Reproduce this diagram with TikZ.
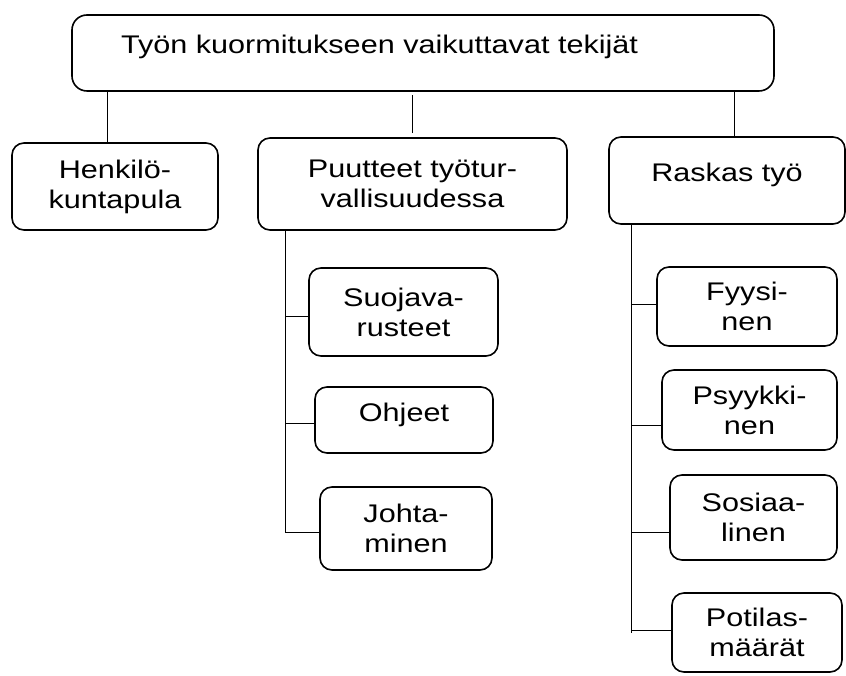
\documentclass[tikz,border=0pt]{standalone}
\usepackage{fontspec}
\setmainfont{Liberation Sans}[FakeStretch=1.2]
\begin{document}
\begin{tikzpicture}[x=1pt, y=1pt, line width=0.8pt,
    box/.style={draw, line width=1.6pt, rounded corners=12pt, align=center, inner sep=0pt, font=\fontsize{25.5}{30}\selectfont}]
  \useasboundingbox (0,0) rectangle (846,675);

  \node[box, rounded corners=15pt, minimum width=702pt, minimum height=76pt, text width=604pt, align=left, text height=18pt, text depth=16pt] (top) at (423,622) {Työn kuormitukseen vaikuttavat tekijät};

  \node[box, minimum width=206pt, minimum height=87pt] (henk) at (115,488.5) {Henkilö-\\kuntapula};
  \node[box, minimum width=309pt, minimum height=92pt] (puut) at (412.5,491) {Puutteet työtur-\\vallisuudessa};
  \node[box, minimum width=236pt, minimum height=87pt, text height=18pt, text depth=15pt] (rask) at (727,494.5) {Raskas työ};

  \node[box, minimum width=189pt, minimum height=88pt] (suoj) at (403.5,363) {Suojava-\\rusteet};
  \node[box, minimum width=178pt, minimum height=66pt, text height=18pt, text depth=14pt] (ohje) at (404,255) {Ohjeet};
  \node[box, minimum width=172pt, minimum height=83pt] (joht) at (406,146.5) {Johta-\\minen};

  \node[box, minimum width=180pt, minimum height=79pt] (fyys) at (747,368.5) {Fyysi-\\nen};
  \node[box, minimum width=175pt, minimum height=80pt] (psyy) at (749.5,265) {Psyykki-\\nen};
  \node[box, minimum width=167pt, minimum height=85pt] (sosi) at (753.5,157.5) {Sosiaa-\\linen};
  \node[box, minimum width=170pt, minimum height=79pt] (poti) at (757,42.5) {Potilas-\\määrät};

  % top level
  \coordinate (h1) at ([xshift=-8pt]henk.north);
  \coordinate (r1) at ([xshift=7pt]rask.north);
  \draw (h1) -- (h1 |- top.south);
  \draw ([yshift=4pt]puut.north) -- ++(0,38);
  \draw (r1) -- (r1 |- top.south);

  % puutteet
  \coordinate (pt) at ([xshift=28pt]puut.south west);
  \coordinate (s1) at ([yshift=-4pt]suoj.west);
  \coordinate (o1) at ([yshift=-3pt]ohje.west);
  \draw (pt) |- ([yshift=-3.5pt]joht.west);
  \draw (s1) -- (s1 -| pt);
  \draw (o1) -- (o1 -| pt);

  % raskas
  \coordinate (rt) at ([xshift=23pt]rask.south west);
  \coordinate (f1) at ([yshift=2.5pt]fyys.west);
  \coordinate (y1) at ([yshift=-15pt]psyy.west);
  \coordinate (k1) at ([yshift=-14.5pt]sosi.west);
  \coordinate (m1) at ([yshift=2.5pt]poti.west);
  \draw (rt) -- (rt |- poti.west);
  \draw (f1) -- (f1 -| rt);
  \draw (y1) -- (y1 -| rt);
  \draw (k1) -- (k1 -| rt);
  \draw (m1) -- (m1 -| rt);
\end{tikzpicture}
\end{document}
